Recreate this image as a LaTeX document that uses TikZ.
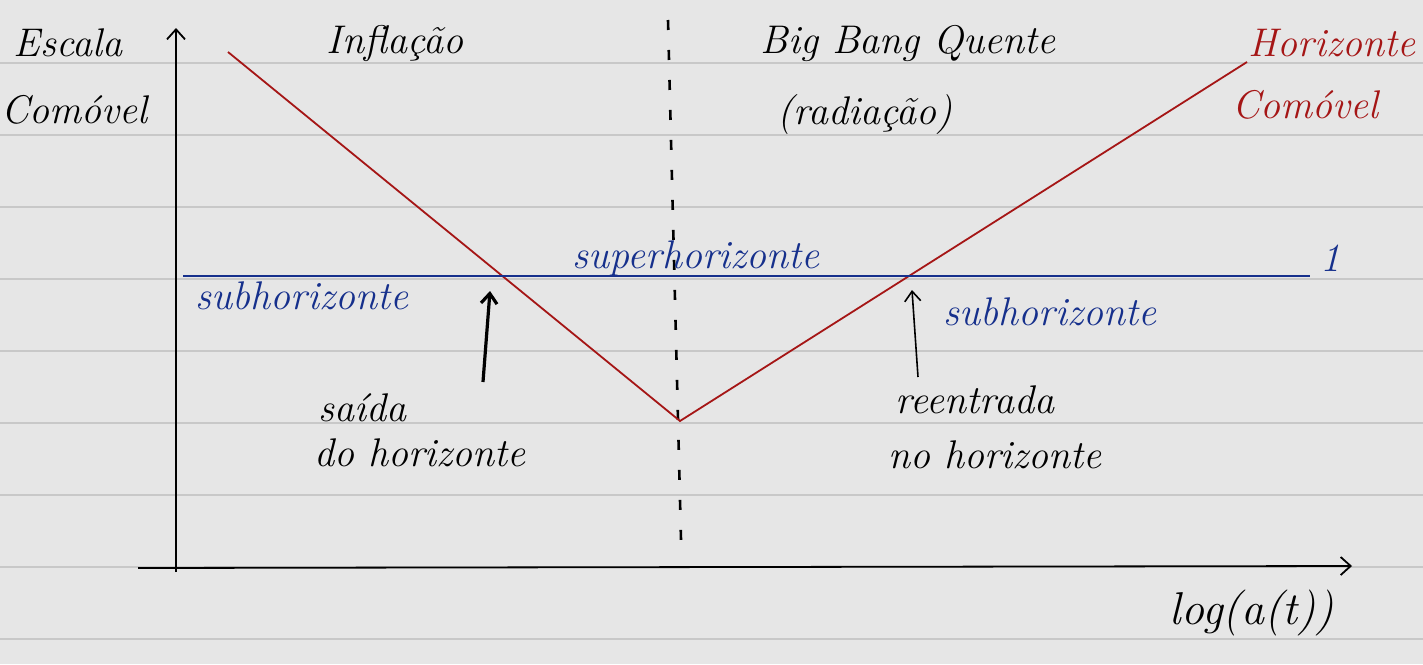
\documentclass[tikz,border=0pt]{standalone}
\usetikzlibrary{arrows.meta}
\definecolor{paper}{HTML}{E6E6E6}
\definecolor{rule}{HTML}{C8C8C8}
\definecolor{hred}{HTML}{A51616}
\definecolor{hblue}{HTML}{16308C}
\tikzset{
  hand/.style={font=\fontsize{20}{24}\selectfont\itshape, inner sep=0pt},
  handblue/.style={hand, text=hblue},
  handred/.style={hand, text=hred},
  ruling/.style={draw=rule, line width=1.1pt},
  axis/.style={draw=black, line width=0.9pt, -{Straight Barb[length=5pt,width=9pt]}},
  horizon/.style={draw=hred, line width=0.9pt},
  scale1/.style={draw=hblue, line width=1.1pt},
  divider/.style={draw=black, line width=1.3pt, dash pattern=on 5pt off 10pt},
  pointer/.style={draw=black, -{Straight Barb[length=5pt,width=8pt]}}
}
\begin{document}
\begin{tikzpicture}[x=0.5pt,y=-0.5pt]
\useasboundingbox (0,0) rectangle (1423,664);
\fill[paper] (0,0) rectangle (1423,664);
\foreach \y in {63,135,207,279,351,423,495,567,639}
  \draw[ruling] (0,\y) -- (1423,\y);

% axes
\coordinate (yb) at (176,572);
\coordinate (yt) at (176,28);
\coordinate (xl) at (138,568);
\coordinate (xr) at (1352,566);
\draw[axis] (yb) -- (yt);
\draw[axis] (xl) -- (xr);

% dashed divider
\coordinate (dt) at (668,20);
\coordinate (db) at (681,540);
\draw[divider] (dt) -- (db);

% comoving horizon
\coordinate (ha) at (228,52);
\coordinate (hb) at (680,421);
\coordinate (hc) at (1247,62);
\draw[horizon] (ha) -- (hb) -- (hc);

% scale line
\coordinate (sl) at (183,276);
\coordinate (sr) at (1310,276);
\draw[scale1] (sl) -- (sr);

% labels
\node[hand] (escala) at (68,43) {Escala};
\node[hand] (comovel) at (75,110) {Comóvel};
\node[hand] (infl) at (395,43) {Inflação};
\node[hand] (bbq) at (908,43) {Big Bang Quente};
\node[hand] (rad) at (865,115) {(radiação)};
\node[handred] (hz) at (1332,43) {Horizonte};
\node[handred] (hzc) at (1305,105) {Comóvel};
\node[handblue] (sup) at (696,258) {superhorizonte};
\node[handblue] (one) at (1330,258) {1};
\node[handblue] (subl) at (302,296) {subhorizonte};
\node[handblue] (subr) at (1050,312) {subhorizonte};
\node[hand] (saida) at (362,408) {saída};
\node[hand] (dohz) at (420,453) {do horizonte};
\node[hand] (reen) at (975,400) {reentrada};
\node[hand] (nohz) at (995,455) {no horizonte};
\node[hand, font=\fontsize{23}{26}\selectfont\itshape] (log) at (1252,613) {log(a(t))};

% pointers
\coordinate (p1s) at (483,382);
\coordinate (p1e) at (490,291);
\coordinate (p2s) at (918,377);
\coordinate (p2e) at (912,290);
\draw[pointer, line width=1.6pt] (p1s) -- (p1e);
\draw[pointer, line width=0.8pt] (p2s) -- (p2e);
\end{tikzpicture}
\end{document}
